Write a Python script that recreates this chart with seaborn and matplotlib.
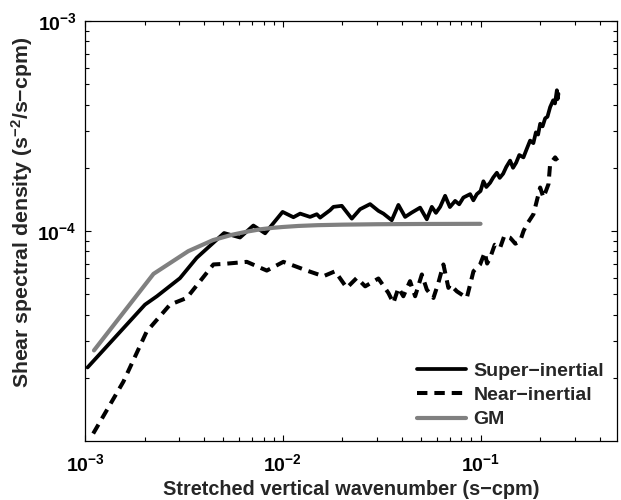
import matplotlib
matplotlib.use("Agg")
import matplotlib.pyplot as plt
import seaborn as sns
import pandas as pd
from matplotlib.ticker import LogLocator, NullFormatter, FixedLocator, FixedFormatter

# ---- data ----
super_k = [1.03e-3, 2.01e-3, 2.31e-3, 3.02e-3, 3.67e-3, 5.05e-3, 6.08e-3, 7.10e-3, 8.14e-3, 9.98e-3,
           1.132e-2, 1.224e-2, 1.374e-2, 1.486e-2, 1.545e-2, 1.734e-2, 1.803e-2, 1.988e-2, 2.234e-2, 2.46e-2,
           2.764e-2, 3.046e-2, 3.228e-2, 3.557e-2, 3.843e-2, 4.156e-2, 4.49e-2, 4.948e-2, 5.35e-2, 5.67e-2,
           5.95e-2, 6.25e-2, 6.62e-2, 7.0e-2, 7.44e-2, 7.8e-2, 8.19e-2, 8.86e-2, 9.2e-2, 9.58e-2,
           0.1, 0.1034, 0.107, 0.1118, 0.116, 0.1209, 0.125, 0.1301, 0.135, 0.1411,
           0.146, 0.1514, 0.157, 0.1648, 0.171, 0.1781, 0.185, 0.1905, 0.1955, 0.2002,
           0.206, 0.2122, 0.218, 0.2249, 0.2329, 0.238, 0.2432, 0.2455, 0.2477]
super_s = [2.24e-5, 4.46e-5, 4.89e-5, 5.96e-5, 7.45e-5, 9.78e-5, 9.31e-5, 1.062e-4, 9.75e-5, 1.233e-4,
           1.163e-4, 1.21e-4, 1.167e-4, 1.202e-4, 1.158e-4, 1.256e-4, 1.303e-4, 1.318e-4, 1.145e-4, 1.27e-4,
           1.343e-4, 1.247e-4, 1.21e-4, 1.125e-4, 1.331e-4, 1.167e-4, 1.224e-4, 1.292e-4, 1.137e-4, 1.303e-4,
           1.22e-4, 1.303e-4, 1.471e-4, 1.30e-4, 1.391e-4, 1.34e-4, 1.443e-4, 1.498e-4, 1.40e-4, 1.498e-4,
           1.55e-4, 1.725e-4, 1.62e-4, 1.697e-4, 1.80e-4, 1.894e-4, 1.79e-4, 1.874e-4, 2.02e-4, 2.163e-4,
           2.0e-4, 2.115e-4, 2.30e-4, 2.242e-4, 2.45e-4, 2.695e-4, 2.62e-4, 2.95e-4, 2.88e-4, 3.24e-4,
           3.15e-4, 3.44e-4, 3.50e-4, 3.89e-4, 4.19e-4, 4.05e-4, 4.68e-4, 4.25e-4, 4.50e-4]

near_k = [1.10e-3, 1.563e-3, 2.05e-3, 2.69e-3, 3.27e-3, 3.82e-3, 4.46e-3, 5.01e-3, 6.58e-3, 8.30e-3,
          1.007e-2, 1.154e-2, 1.323e-2, 1.605e-2, 1.839e-2, 2.107e-2, 2.368e-2, 2.61e-2, 3.045e-2, 3.42e-2,
          3.626e-2, 3.843e-2, 4.07e-2, 4.40e-2, 4.67e-2, 5.05e-2, 5.35e-2, 5.78e-2, 6.12e-2, 6.49e-2,
          6.88e-2, 7.02e-2, 7.59e-2, 8.52e-2, 9.21e-2, 9.95e-2,
          0.105, 0.108, 0.1118, 0.118, 0.1256, 0.132, 0.1411, 0.15, 0.1586, 0.165,
          0.1715, 0.1852, 0.2002, 0.208, 0.2206, 0.2249, 0.2384, 0.2449]
near_s = [1.085e-5, 1.916e-5, 3.32e-5, 4.46e-5, 4.80e-5, 5.77e-5, 6.93e-5, 6.97e-5, 7.13e-5, 6.48e-5,
          7.13e-5, 6.80e-5, 6.48e-5, 6.09e-5, 6.43e-5, 5.36e-5, 5.98e-5, 5.45e-5, 5.94e-5, 5.07e-5,
          4.54e-5, 5.36e-5, 4.89e-5, 5.77e-5, 4.89e-5, 6.21e-5, 5.26e-5, 4.80e-5, 5.66e-5, 6.93e-5,
          5.36e-5, 5.56e-5, 5.16e-5, 4.80e-5, 6.43e-5, 6.93e-5,
          7.9e-5, 7.0e-5, 7.45e-5, 8.6e-5, 8.32e-5, 9.5e-5, 9.29e-5, 8.7e-5, 8.96e-5, 1.0e-4,
          1.076e-4, 1.202e-4, 1.611e-4, 1.443e-4, 1.672e-4, 2.085e-4, 2.242e-4, 2.163e-4]

gm_k = [1.11e-3, 2.22e-3, 3.33e-3, 4.44e-3, 5.55e-3, 6.66e-3, 7.77e-3, 8.88e-3, 1.0e-2, 1.2e-2,
        1.5e-2, 2.0e-2, 3.0e-2, 5.0e-2, 0.1]
gm_s = [2.70e-5, 6.25e-5, 8.02e-5, 9.05e-5, 9.6e-5, 9.95e-5, 1.02e-4, 1.035e-4, 1.045e-4, 1.057e-4,
        1.066e-4, 1.072e-4, 1.077e-4, 1.08e-4, 1.082e-4]

labels = ["Super\u2212inertial", "Near\u2212inertial", "GM"]
xtick_vals = [1e-3, 1e-2, 1e-1]
xtick_labels = [r"$10^{-3}$", r"$10^{-2}$", r"$10^{-1}$"]
ytick_vals = [1e-4, 1e-3]
ytick_labels = [r"$10^{-4}$", r"$10^{-3}$"]

# ---- style ----
sns.set_style("ticks")
plt.rcParams["font.family"] = ["Liberation Sans", "DejaVu Sans"]
plt.rcParams["font.weight"] = "bold"
plt.rcParams["axes.labelweight"] = "bold"
plt.rcParams["mathtext.fontset"] = "custom"
plt.rcParams["mathtext.rm"] = "Liberation Sans:bold"
plt.rcParams["mathtext.bf"] = "Liberation Sans:bold"
plt.rcParams["mathtext.it"] = "Liberation Sans:bold"
plt.rcParams["mathtext.default"] = "bf"
plt.rcParams["lines.scale_dashes"] = False

fig = plt.figure(figsize=(6.21, 5.0), dpi=100)
ax = fig.add_axes([0.1369, 0.118, 0.8567, 0.84])

df_super = pd.DataFrame({"k": super_k, "s": super_s})
df_near = pd.DataFrame({"k": near_k, "s": near_s})
df_gm = pd.DataFrame({"k": gm_k, "s": gm_s})

sns.lineplot(data=df_super, x="k", y="s", ax=ax, color="black", lw=2.7,
             estimator=None, sort=False, label=labels[0])
sns.lineplot(data=df_near, x="k", y="s", ax=ax, color="black", lw=2.9,
             estimator=None, sort=False, label=labels[1])
ax.lines[-1].set_dashes((7.5, 5.0))
sns.lineplot(data=df_gm, x="k", y="s", ax=ax, color="#808080", lw=3.0,
             estimator=None, sort=False, label=labels[2])

ax.set_xscale("log")
ax.set_yscale("log")
ax.set_xlim(1e-3, 0.49)
ax.set_ylim(1.0e-5, 1e-3)

ax.xaxis.set_major_locator(FixedLocator(xtick_vals))
ax.xaxis.set_major_formatter(FixedFormatter(xtick_labels))
ax.yaxis.set_major_locator(FixedLocator(ytick_vals))
ax.yaxis.set_major_formatter(FixedFormatter(ytick_labels))
ax.xaxis.set_minor_locator(LogLocator(base=10, subs=range(2, 10), numticks=20))
ax.yaxis.set_minor_locator(LogLocator(base=10, subs=range(2, 10), numticks=20))
ax.xaxis.set_minor_formatter(NullFormatter())
ax.yaxis.set_minor_formatter(NullFormatter())

ax.tick_params(which="both", direction="in", top=True, right=True, width=0.8, colors="black")
ax.tick_params(which="major", length=4.5, labelsize=14)
ax.tick_params(axis="x", which="major", pad=9)
ax.tick_params(axis="y", which="major", pad=6)
ax.tick_params(which="minor", length=2.6)
for sp in ax.spines.values():
    sp.set_linewidth(0.9)
    sp.set_color("black")

ax.set_xlabel("Stretched vertical wavenumber (s\u2212cpm)", fontsize=14.3, fontweight="bold", labelpad=3)
ax.set_ylabel("Shear spectral density (s$^{-2}$/s\u2212cpm)", fontsize=15.3, fontweight="bold")
ax.yaxis.set_label_coords(-0.094, 0.545)

leg = ax.legend(loc="lower right", bbox_to_anchor=(0.9756, 0.03), frameon=False, fontsize=14,
                handlelength=2.5, handletextpad=0.4, labelspacing=0.35, borderpad=0, borderaxespad=0)
for t in leg.get_texts():
    t.set_fontweight("bold")

fig.savefig("out.png", dpi=100)
